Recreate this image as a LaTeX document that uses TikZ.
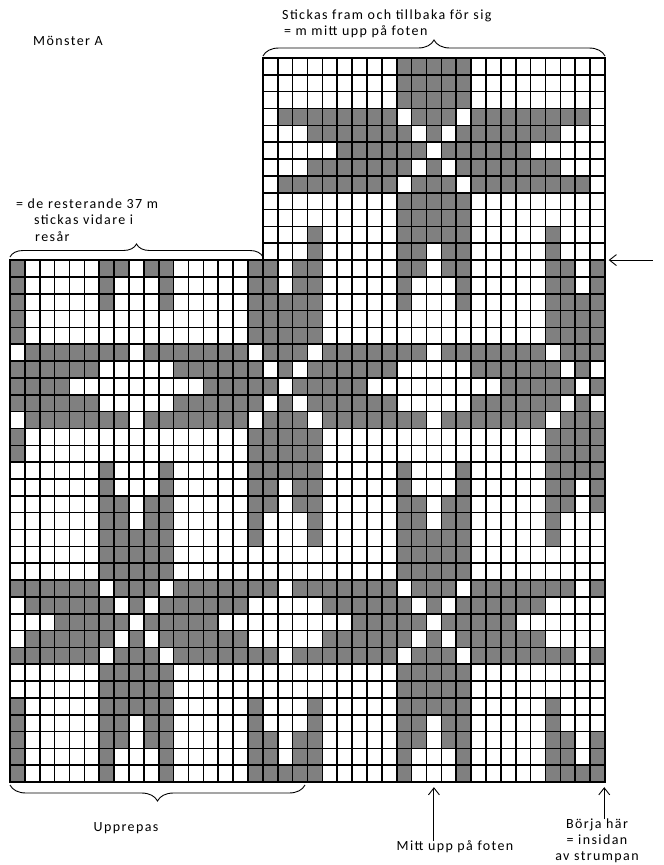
\documentclass[tikz,border=0pt]{standalone}
\usepackage{fontspec}
\setmainfont{Carlito}[LetterSpace=10]
\usetikzlibrary{positioning,arrows.meta,decorations.pathreplacing,calc}

\begin{document}
\begin{tikzpicture}[
    x=1pt, y=-1pt,
    lbl/.style={font=\fontsize{14}{16}\selectfont, inner sep=0pt},
    knit/.style={fill=black!50},
    rule/.style={line width=1.6pt, line cap=rect},
    bracket/.style={decorate, decoration={brace, amplitude=#1}, line width=0.9pt},
    pointer/.style={line width=0.9pt, -{Straight Barb[length=7pt,width=11pt]}}]
  \useasboundingbox (0,0) rectangle (664,865);
  % chart: column c, row r is the cell (c-1,r-1)--(c,r)
  \begin{scope}[shift={(10,58)}, x=14.875pt, y=-16.84pt]
    \foreach \r/\cl in {
      1/{27,28,...,31}, 2/{27,28,...,31}, 3/{27,28,...,31},
      4/{19,20,...,26,28,29,30,32,33,...,39},
      5/{21,22,...,27,29,31,32,...,37},
      6/{23,24,...,28,30,31,...,35},
      7/{21,22,...,27,29,31,32,...,37},
      8/{19,20,...,26,28,29,30,32,33,...,39},
      9/{27,28,...,31}, 10/{27,28,...,31},
      11/{21,27,28,...,31,37},
      12/{21,27,28,30,31,37},
      13/{1,7,8,10,11,17,18,20,21,27,28,30,31,37,38,40},
      14/{1,7,11,17,18,20,21,27,31,37,38,40},
      15/{1,7,11,17,18,...,21,27,31,37,38,...,40},
      16/{1,17,18,...,21,37,38,...,40},
      17/{1,17,18,...,21,37,38,...,40},
      18/{2,3,...,8,10,11,...,16,18,19,20,22,23,...,28,30,31,...,36,38,39,40},
      19/{1,2,...,6,12,13,...,17,19,21,22,...,26,32,33,...,37,39},
      20/{1,2,...,4,14,15,...,18,20,21,...,24,34,35,...,38,40},
      21/{1,2,...,6,12,13,...,17,19,21,22,...,26,32,33,...,37,39},
      22/{2,3,...,8,10,11,...,16,18,19,20,22,23,...,28,30,31,...,36,38,39,40},
      23/{1,17,18,...,21,37,38,...,40},
      24/{1,17,18,...,21,37,38,...,40},
      25/{7,11,17,18,...,21,27,31,37,38,...,40},
      26/{7,11,17,18,20,21,27,31,37,38,40},
      27/{7,8,10,11,17,18,20,21,27,28,30,31,37,38,40},
      28/{7,8,10,11,17,21,27,28,30,31,37},
      29/{7,8,...,11,17,21,27,28,...,31,37},
      30/{7,8,...,11,27,28,...,31},
      31/{7,8,...,11,27,28,...,31},
      32/{1,2,...,6,8,9,10,12,13,...,18,20,21,...,26,28,29,30,32,33,...,38,40},
      33/{2,3,...,7,9,11,12,...,16,22,23,...,27,29,31,32,...,36},
      34/{4,5,...,8,10,11,...,14,24,25,...,28,30,31,...,34},
      35/{2,3,...,7,9,11,12,...,16,22,23,...,27,29,31,32,...,36},
      36/{1,2,...,6,8,9,10,12,13,...,18,20,21,...,26,28,29,30,32,33,...,38,40},
      37/{7,8,...,11,27,28,...,31},
      38/{7,8,...,11,27,28,...,31},
      39/{1,7,8,...,11,17,21,27,28,...,31,37},
      40/{1,7,8,10,11,17,21,27,28,30,31,37},
      41/{1,7,8,10,11,17,18,20,21,27,28,30,31,37,38,40},
      42/{1,7,11,17,18,20,21,27,31,37,38,40},
      43/{1,7,11,17,18,...,21,27,31,37,38,...,40}}{
      \foreach \c in \cl {\fill[knit] (\c-1,\r-1) rectangle (\c,\r);}
    }
    % grid lines
    \foreach \c in {0,...,40} \draw[rule] (\c,12) -- (\c,43);
    \foreach \c in {17,...,40} \draw[rule] (\c,0) -- (\c,12);
    \foreach \r in {12,...,43} \draw[rule] (0,\r) -- (40,\r);
    \foreach \r in {0,...,11} \draw[rule] (17,\r) -- (40,\r);
    \coordinate (midfoot) at (28.5,43.3);
    \coordinate (startpt) at (39.95,43.3);
    \coordinate (rowmark) at (40.25,12);
  \end{scope}
  % labels
  \node[lbl, anchor=west] (title) at (33,41) {Mönster A};
  \node[lbl, anchor=west] (topnote) at (282,16) {Stickas fram och tillbaka för sig};
  \node[lbl, anchor=west] (topnote2) at (284,32) {= m mitt upp på foten};
  \node[lbl, anchor=west] (restnote) at (16,204) {= de resterande 37 m};
  \node[lbl, anchor=west] (restnote2) at (34,220) {stickas vidare i};
  \node[lbl, anchor=west] (restnote3) at (35,237) {resår};
  \node[lbl] (repeat) at (126,828) {Upprepas};
  \node[lbl] (midlbl) at (455,847) {Mitt upp på foten};
  \node[lbl, align=center, anchor=north] (startlbl) at (597,819) {Börja här\\= insidan\\av strumpan};
  \coordinate[right=44pt of rowmark] (rowtail);
  % brackets
  \draw[bracket=16pt] (263,56) -- (605,56);
  \draw[bracket=13pt] (10,257) -- (263,257);
  \draw[bracket=16pt] (305,785) -- (10,785);
  % arrows
  \draw[pointer] (midfoot |- midlbl.north) -- (midfoot);
  \draw[pointer] (startpt |- startlbl.north) -- (startpt);
  \draw[pointer] (rowtail) -- (rowmark);
\end{tikzpicture}
\end{document}
